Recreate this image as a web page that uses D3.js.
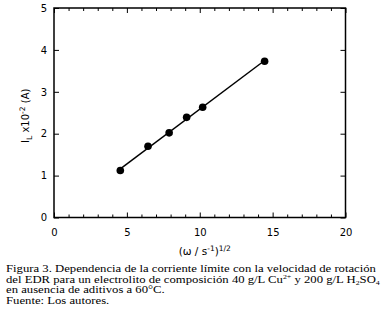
<!doctype html>
<html lang="en">
<head>
  <meta charset="utf-8">
  <title>Figura 3</title>
  <script src="https://cdn.jsdelivr.net/npm/d3@7"></script>
  <style>
    body { margin: 0; background: #fff; }
    .tick text { font-family: "DejaVu Sans", sans-serif; font-size: 10px; }
    .caption { font-family: "Liberation Serif", serif; font-size: 10.5px; }
  </style>
</head>
<body>
  <svg id="chart"></svg>
  <script>
    // data
    var omegaRoot = [4.55, 6.45, 7.9, 9.1, 10.2, 14.45];
    var currentIL = [1.12, 1.70, 2.02, 2.39, 2.63, 3.73];
    var xTicks = [0, 5, 10, 15, 20];
    var yTicks = [0, 1, 2, 3, 4, 5];

    var WIDTH = 382, HEIGHT = 326;
    var pLeft = 54, pRight = 345.5, pTop = 8, pBottom = 217.5;

    var svg = d3.select("#chart").attr("width", WIDTH).attr("height", HEIGHT);

    var x = d3.scaleLinear().domain([0, 20]).range([pLeft, pRight]);
    var y = d3.scaleLinear().domain([0, 5]).range([pBottom, pTop]);

    // minor ticks on x every 1
    var xMinor = d3.range(0, 21).filter(function(d){ return d % 5 != 0; });

    function styleAxis(g) {
      g.select(".domain").remove();
      g.selectAll(".tick line").attr("stroke", "#000").attr("stroke-width", 1);
    }

    // bottom axis with labels, ticks pointing in
    svg.append("g").attr("transform", "translate(0," + pBottom + ")")
      .call(d3.axisBottom(x).tickValues(xTicks).tickSize(-5).tickPadding(11).tickFormat(d3.format("d")))
      .call(styleAxis);
    svg.append("g").attr("transform", "translate(0," + pBottom + ")")
      .call(d3.axisBottom(x).tickValues(xMinor).tickSize(-3).tickFormat(""))
      .call(styleAxis);
    // top axis
    svg.append("g").attr("transform", "translate(0," + pTop + ")")
      .call(d3.axisTop(x).tickValues(xTicks).tickSize(-5).tickFormat(""))
      .call(styleAxis);
    svg.append("g").attr("transform", "translate(0," + pTop + ")")
      .call(d3.axisTop(x).tickValues(xMinor).tickSize(-3).tickFormat(""))
      .call(styleAxis);
    // left axis
    svg.append("g").attr("transform", "translate(" + pLeft + ",0)")
      .call(d3.axisLeft(y).tickValues(yTicks).tickSize(-5).tickPadding(7).tickFormat(d3.format("d")))
      .call(styleAxis);
    // right axis
    svg.append("g").attr("transform", "translate(" + pRight + ",0)")
      .call(d3.axisRight(y).tickValues(yTicks).tickSize(-5).tickFormat(""))
      .call(styleAxis);

    svg.append("rect")
      .attr("x", pLeft).attr("y", pTop)
      .attr("width", pRight - pLeft).attr("height", pBottom - pTop)
      .attr("fill", "none").attr("stroke", "#000").attr("stroke-width", 1.5);

    // least squares line through the points
    var mx = d3.mean(omegaRoot), my = d3.mean(currentIL);
    var sxy = 0, sxx = 0;
    for (var i = 0; i < omegaRoot.length; i++) {
      sxy += (omegaRoot[i] - mx) * (currentIL[i] - my);
      sxx += (omegaRoot[i] - mx) * (omegaRoot[i] - mx);
    }
    var slope = sxy / sxx, icpt = my - slope * mx;
    var xs = d3.extent(omegaRoot);
    var fit = xs.map(function(v){ return [v, icpt + slope * v]; });

    var line = d3.line()
      .x(function(d){ return x(d[0]); })
      .y(function(d){ return y(d[1]); });

    svg.append("path").datum(fit).attr("d", line)
      .attr("stroke", "#000").attr("stroke-width", 1.5).attr("fill", "none");

    svg.selectAll("circle.pt").data(omegaRoot).enter().append("circle")
      .attr("class", "pt")
      .attr("cx", function(d){ return x(d); })
      .attr("cy", function(d, i){ return y(currentIL[i]); })
      .attr("r", 3.8).attr("fill", "#000");

    // axis titles
    var xt = svg.append("text").attr("x", (pLeft + pRight) / 2 + 5).attr("y", 255)
      .attr("text-anchor", "middle")
      .style("font-family", "'DejaVu Sans', sans-serif").style("font-size", "10.5px");
    xt.append("tspan").text("(\u03c9 / s");
    xt.append("tspan").attr("dy", -4).style("font-size", "7.5px").text("-1");
    xt.append("tspan").attr("dy", 4).text(")");
    xt.append("tspan").attr("dy", -4).style("font-size", "7.5px").text("1/2");

    var yt = svg.append("text")
      .attr("transform", "translate(29," + ((pTop + pBottom) / 2 + 3) + ") rotate(-90)")
      .attr("text-anchor", "middle")
      .style("font-family", "'DejaVu Sans', sans-serif").style("font-size", "10px");
    yt.append("tspan").text("I");
    yt.append("tspan").attr("dy", 3).style("font-size", "7.5px").text("L");
    yt.append("tspan").attr("dy", -3).text(" x10");
    yt.append("tspan").attr("dy", -4).style("font-size", "7.5px").text("-2");
    yt.append("tspan").attr("dy", 4).text(" (A)");

    // caption (the original is a bit stretched horizontally)
    var cap = svg.append("g").attr("class", "caption")
      .attr("transform", "translate(6,0) scale(1.21,1)");
    cap.append("text").attr("x", 0).attr("y", 272)
      .text("Figura 3. Dependencia de la corriente l\u00edmite con la velocidad de rotaci\u00f3n");
    var l2 = cap.append("text").attr("x", 0).attr("y", 282.8);
    l2.append("tspan").text("del EDR para un electrolito de composici\u00f3n 40 g/L Cu");
    l2.append("tspan").attr("dy", -4).style("font-size", "6.5px").text("2+");
    l2.append("tspan").attr("dy", 4).text(" y 200 g/L H");
    l2.append("tspan").attr("dy", 2).style("font-size", "6.5px").text("2");
    l2.append("tspan").attr("dy", -2).text("SO");
    l2.append("tspan").attr("dy", 2).style("font-size", "6.5px").text("4");
    cap.append("text").attr("x", 0).attr("y", 293.4)
      .text("en ausencia de aditivos a 60\u00b0C.");
    cap.append("text").attr("x", 0).attr("y", 304)
      .text("Fuente: Los autores.");
  </script>
</body>
</html>
